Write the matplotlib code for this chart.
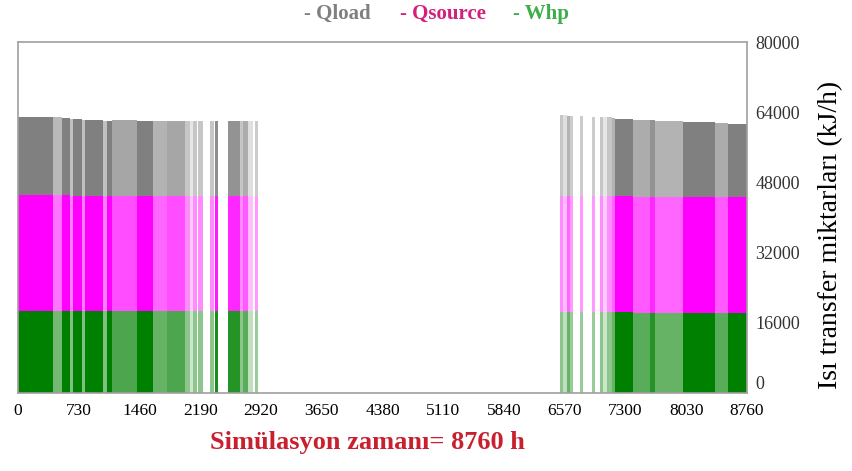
import numpy as np
import matplotlib.pyplot as plt
from matplotlib.colors import to_rgb

# heating periods of the year (h), with the share of each slice the heat pump runs
seg_start = [0, 420, 530, 625, 660, 770, 805, 1020, 1070, 1130, 1430, 1620, 1790,
             2007, 2067, 2103, 2164, 2308, 2368, 2524, 2668, 2705, 2765, 2849,
             6515, 6551, 6599, 6635, 6755, 6899, 6996, 7032, 7080, 7140, 7176,
             7392, 7597, 7657, 7993, 8378, 8534]
seg_end = [420, 530, 625, 660, 770, 805, 1020, 1070, 1130, 1430, 1620, 1790, 2007,
           2067, 2103, 2152, 2224, 2356, 2404, 2668, 2705, 2765, 2825, 2885,
           6551, 6599, 6635, 6671, 6791, 6936, 7032, 7080, 7140, 7176, 7392,
           7597, 7657, 7993, 8378, 8534, 8760]
duty = [1.0, 0.55, 1.0, 0.5, 1.0, 0.5, 1.0, 0.5, 1.0, 0.7, 1.0, 0.6, 0.7,
        0.45, 0.2, 0.45, 0.45, 0.45, 0.9, 0.85, 0.45, 0.65, 0.25, 0.4,
        0.45, 0.25, 0.6, 0.4, 0.4, 0.4, 0.45, 0.2, 0.45, 0.6, 1.0,
        0.65, 0.85, 0.6, 1.0, 0.65, 1.0]

# kJ/h
q_load = [63000, 62800, 62700, 62500, 62400, 62300, 62200, 62100, 62000, 62200, 62000, 61900, 62000,
          62000, 62000, 62000, 62000, 62000, 62000, 62000, 62000, 62000, 62000, 62000,
          63300, 63300, 63200, 63200, 63100, 63000, 63000, 62900, 62800, 62700, 62500,
          62300, 62200, 62000, 61800, 61500, 61300]
q_source = [45200, 45100, 45100, 45000, 45000, 45000, 45000, 45000, 45000, 45000, 45000, 45000, 45000,
            45000, 45000, 45000, 45000, 45000, 45000, 45000, 45000, 45000, 45000, 45000,
            44800, 44800, 44800, 44800, 44800, 44800, 44800, 44800, 44800, 44800, 44800,
            44700, 44700, 44700, 44600, 44600, 44600]
w_hp = [18800, 18800, 18800, 18800, 18800, 18800, 18800, 18800, 18800, 18800, 18800, 18800, 18800,
        18800, 18800, 18800, 18800, 18800, 18800, 18800, 18800, 18800, 18800, 18800,
        18400, 18400, 18400, 18400, 18400, 18400, 18400, 18400, 18400, 18400, 18400,
        18300, 18300, 18300, 18300, 18300, 18300]

x_ticks = [0, 730, 1460, 2190, 2920, 3650, 4380, 5110, 5840, 6570, 7300, 8030, 8760]
y_ticks = [0, 16000, 32000, 48000, 64000, 80000]


def shade(color, frac):
    # lighter colour for slices where the pump is only partly on
    c = np.array(to_rgb(color))
    return tuple(1 - frac * (1 - c))


fig = plt.figure(figsize=(8.52, 4.71), dpi=100)
ax = fig.add_axes([0.0211, 0.1656, 0.8557, 0.7452])

starts = np.array(seg_start)
widths = np.array(seg_end) - starts
for vals, base in [(q_load, '#808080'), (q_source, '#ff00ff'), (w_hp, '#008000')]:
    ax.bar(starts, vals, width=widths, align='edge', linewidth=0,
           color=[shade(base, d) for d in duty])

ax.set_xlim(0, 8760)
ax.set_ylim(0, 80000)
ax.set_xticks(x_ticks)
ax.set_xticklabels([str(t) for t in x_ticks], family='Liberation Serif', fontsize=12.5)
ax.yaxis.tick_right()
ax.yaxis.set_label_position('right')
ax.set_yticks(y_ticks)
ax.set_yticklabels([str(t) for t in y_ticks], family='Liberation Serif', fontsize=13,
                   color='#333333')
ax.get_yticklabels()[0].set_va('bottom')
ax.tick_params(axis='x', length=0, pad=7)
ax.tick_params(axis='y', length=0, pad=6)
for s in ax.spines.values():
    s.set_color('#a0a0a0')
    s.set_linewidth(1.2)

ax.set_ylabel('Isı transfer miktarları (kJ/h)', family='Liberation Serif', fontsize=20)
ax.yaxis.set_label_coords(1.097, 0.45)
ax.set_xlabel('Simülasyon zamanı= 8760 h', family='Liberation Serif', fontsize=19,
              fontweight='bold', color='#c8202e')
ax.xaxis.set_label_coords(0.479, -0.108)

# series names along the top
fig.text(0.357, 0.970, '- Qload', family='Liberation Serif', fontsize=15,
         fontweight='bold', color='#808080', va='center')
fig.text(0.469, 0.970, '- Qsource', family='Liberation Serif', fontsize=15,
         fontweight='bold', color='#d4207c', va='center')
fig.text(0.602, 0.970, '- Whp', family='Liberation Serif', fontsize=15,
         fontweight='bold', color='#3fae4a', va='center')

fig.savefig('out.png', dpi=100)
